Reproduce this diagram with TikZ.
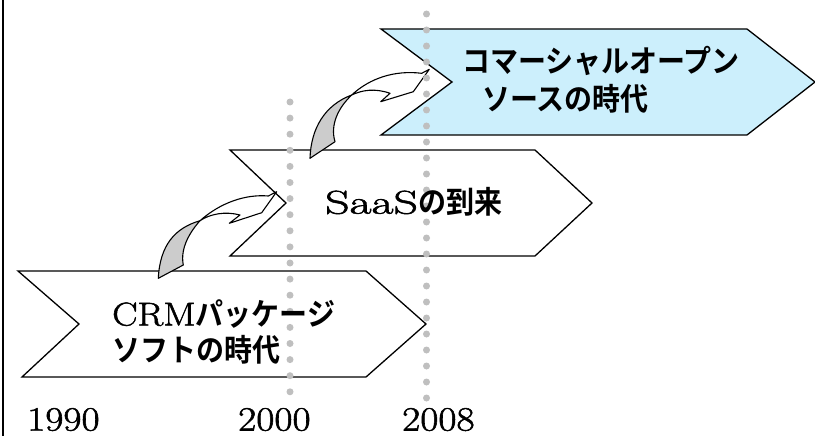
\documentclass[tikz,border=0pt]{standalone}
\usepackage{fontspec}
\newfontfamily\jpfont{Noto Sans CJK JP}[BoldFont={* Bold}]
\newfontfamily\latinf{Latin Modern Roman}[FakeBold=1.5]
\newcommand{\jp}[1]{\scalebox{1}[1.1]{\fontsize{28}{32}\jpfont\bfseries #1}}
\newcommand{\wide}[2]{\scalebox{#1}[1]{\latinf #2}}
\begin{document}
\begin{tikzpicture}[x=1pt,y=-1pt,
  chev/.style={draw=black,line width=1.3pt,line join=miter},
  twist/.style={draw=black,line width=1.1pt,line join=round},
  dotline/.style={draw=black!25,line width=7pt,line cap=round,dash pattern=on 0pt off 16pt},
  lbl/.style={inner sep=0pt,anchor=west,font=\fontsize{28}{32}\selectfont},
  lat/.style={inner sep=0pt,anchor=west,font=\fontsize{33}{36}\selectfont},
  yr/.style={inner sep=0pt,anchor=base west,font=\fontsize{34}{38}\selectfont}]
\useasboundingbox (0,0) rectangle (815,436);
% left border
\draw[line width=1.4pt] (3,0) -- (3,436);
% chevrons
\draw[chev,fill=white] (18,271) -- (366,271) -- (426,324) -- (366,377) -- (22,377) -- (79,324) -- cycle;
\draw[chev,fill=white] (230,150) -- (535,150) -- (592,203) -- (535,256) -- (230,256) -- (286,203) -- cycle;
\draw[chev,fill=cyan!20] (381,29) -- (747,29) -- (815,82) -- (747,135) -- (381,135) -- (452,82) -- cycle;
% curved arrow 1
\draw[twist,fill=black!20] (158.3,278.3) .. controls (160,245) and (175,228) .. (200,220.7)
  .. controls (190,232) and (180,248) .. (183.3,265) -- cycle;
\draw[twist,fill=white] (200,220.7) .. controls (220,203) and (245,194) .. (268.3,196)
  -- (276.7,191.7) -- (261.7,212.7) -- (229.3,223.3) -- (240,215)
  .. controls (225,211) and (210,214) .. (200,220.7) -- cycle;
% curved arrow 2
\draw[twist,fill=black!20] (310,158.3) .. controls (311,128) and (325,105) .. (351.7,95)
  .. controls (338,108) and (330,125) .. (335,141.7) -- cycle;
\draw[twist,fill=white] (351.7,95) .. controls (370,78) and (395,70) .. (421.7,73.3)
  -- (429.3,69.3) -- (413.3,91.7) -- (380.7,101.7) -- (390,93.3)
  .. controls (375,88) and (362,90) .. (351.7,95) -- cycle;
% dotted time lines
\coordinate (a1) at (290,102);
\coordinate (a2) at (290,392.5);
\coordinate (b1) at (426.5,14);
\coordinate (b2) at (426.5,398.5);
\draw[dotline,dash pattern=on 0pt off 16.1pt] (a1) -- (a2);
\draw[dotline] (b1) -- (b2);
% labels
\node[lbl] (t3a) at (462,61) {\jp{コマーシャルオープン}};
\node[lbl] (t3b) at (482,99) {\jp{ソースの時代}};
\node[lat] (t2) at (325,202) {\wide{1.45}{SaaS}\jp{の到来}};
\node[lat] (t1a) at (112,314) {\wide{1.15}{CRM}\jp{パッケージ}};
\node[lbl] (t1b) at (112,350) {\jp{ソフトの時代}};
% years
\node[yr] (y1) at (27,430.5) {\wide{1.16}{1990}};
\node[yr] (y2) at (238,430.5) {\wide{1.16}{2000}};
\node[yr] (y3) at (402,430.5) {\wide{1.16}{2008}};
\end{tikzpicture}
\end{document}
